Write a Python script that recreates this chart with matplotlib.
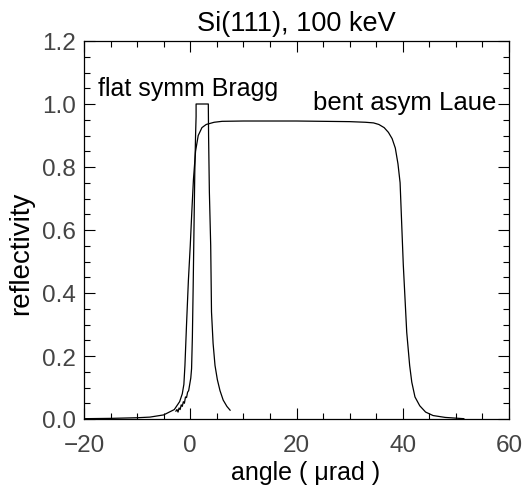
import matplotlib
matplotlib.use("Agg")
import matplotlib.pyplot as plt
from matplotlib.ticker import MultipleLocator

plt.rcParams['font.family'] = ['Liberation Sans', 'DejaVu Sans']

# Bent asymmetric Laue reflectivity curve
laue_x = [-20, -15, -10, -7.6, -5.0, -3.0, -2.0, -1.5, -1.2, -1.0, -0.7, -0.35, 0.0,
          0.3, 0.6, 1.0, 1.5, 2.2, 3.0, 4.5, 6.0, 10, 20, 30, 33, 34.5, 35.5,
          36.5, 37.3, 38.0, 38.6, 39.1, 39.5, 40.1, 40.75, 41.3, 41.7, 42.3,
          43.2, 44.3, 45.7, 48.0, 51.5]
laue_y = [0.001, 0.002, 0.004, 0.006, 0.013, 0.03, 0.055, 0.08, 0.11, 0.17, 0.3, 0.44, 0.55,
          0.66, 0.76, 0.85, 0.9, 0.925, 0.935, 0.942, 0.945, 0.946, 0.946, 0.944, 0.942, 0.94, 0.935,
          0.925, 0.91, 0.89, 0.86, 0.81, 0.75, 0.49, 0.275, 0.17, 0.117, 0.07,
          0.042, 0.022, 0.011, 0.005, 0.001]

# Flat symmetric Bragg reflectivity curve (left flank is noisy in the reference)
bragg_x = [-2.7, -2.5, -2.3, -2.1, -1.9, -1.7, -1.5, -1.3, -1.1, -0.9, -0.7, -0.5,
           -0.3, -0.1, 0.1, 0.25, 0.4, 0.55, 0.7, 0.85, 1.0, 1.1, 1.1,
           3.4, 3.45, 3.6, 3.85, 4.0, 4.3, 4.66, 5.1, 5.6, 6.2, 6.9, 7.5]
bragg_y = [0.025, 0.03, 0.022, 0.035, 0.03, 0.045, 0.04, 0.055, 0.05, 0.07, 0.068, 0.085,
           0.09, 0.11, 0.13, 0.16, 0.26, 0.42, 0.6, 0.78, 0.9, 0.96, 1.0,
           1.0, 0.9, 0.72, 0.55, 0.34, 0.24, 0.17, 0.125, 0.09, 0.06, 0.04, 0.028]

x_ticks = [-20, 0, 20, 40, 60]
y_ticks = [0.0, 0.2, 0.4, 0.6, 0.8, 1.0, 1.2]

fig = plt.figure(figsize=(5.22, 4.89), dpi=100)
ax = fig.add_axes([84/522, 1-420/489, (509-84)/522, (420-42)/489])

ax.plot(laue_x, laue_y, color='black', lw=0.9)
ax.plot(bragg_x, bragg_y, color='black', lw=0.9)

ax.set_xlim(-20, 60)
ax.set_ylim(0, 1.2)
ax.set_xticks(x_ticks)
ax.set_yticks(y_ticks)
ax.set_xticklabels(['\u221220', '0', '20', '40', '60'])
ax.set_yticklabels([f'{v:.1f}' for v in y_ticks])
ax.xaxis.set_minor_locator(MultipleLocator(5))
ax.yaxis.set_minor_locator(MultipleLocator(0.05))
ax.tick_params(which='both', direction='in', top=True, right=True, width=0.8,
               colors='black', labelcolor='#444444', labelsize=17.5)
ax.tick_params(which='major', length=8)
ax.tick_params(which='minor', length=4)
ax.tick_params(axis='x', which='major', pad=11)
ax.tick_params(axis='y', which='major', pad=6)
for s in ax.spines.values():
    s.set_linewidth(0.9)

ax.set_title('Si(111), 100 keV', fontsize=19.5, pad=8)
ax.set_xlabel('angle ( \u03bcrad )', fontsize=18)
ax.xaxis.set_label_coords(0.522, -0.108)
ax.set_ylabel('reflectivity', fontsize=20)
ax.yaxis.set_label_coords(-0.117, 0.44)

ax.text(-17.4, 1.05, 'flat symm Bragg', fontsize=18, va='center', ha='left')
ax.text(23.1, 1.005, 'bent asym Laue', fontsize=18.5, va='center', ha='left')

fig.savefig('out.png', dpi=100)
